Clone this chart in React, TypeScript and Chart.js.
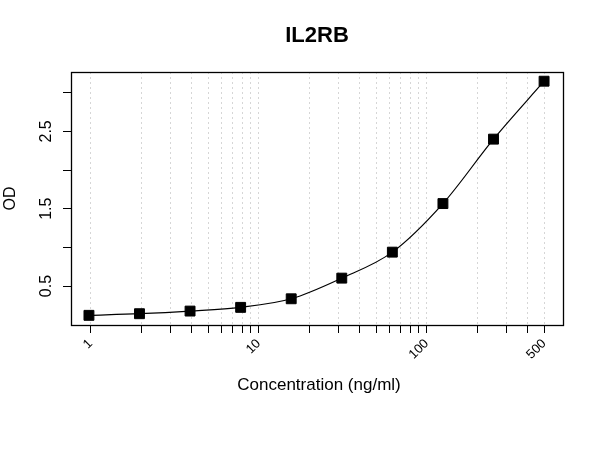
import React, { useEffect, useRef } from "react";
import { Chart, registerables } from "chart.js";

Chart.register(...registerables);

const concentrations = [0.977, 1.953, 3.906, 7.813, 15.625, 31.25, 62.5, 125, 250, 500];
const odValues = [0.122, 0.143, 0.177, 0.225, 0.336, 0.603, 0.939, 1.567, 2.4, 3.149];
const xTickValues = [1, 2, 3, 4, 5, 6, 7, 8, 9, 10, 20, 30, 40, 50, 60, 70, 80, 90, 100, 200, 300, 400, 500];
const xTickLabels = [1, 10, 100, 500];
const yTickValues = [0.5, 1, 1.5, 2, 2.5, 3];
const yTickLabels = [0.5, 1.5, 2.5];

const titleText = "IL2RB";
const xTitle = "Concentration (ng/ml)";
const yTitle = "OD";

const FONT = "'Liberation Sans', Arial, Helvetica, sans-serif";

const framePlugin = {
  id: "frame",
  afterDraw(chart: any) {
    const { ctx, chartArea } = chart;
    const { left, top, right, bottom } = chartArea;
    ctx.save();
    ctx.strokeStyle = "#000";
    ctx.lineWidth = 1.3;
    ctx.strokeRect(left + 0.5, top + 0.5, right - left, bottom - top);
    ctx.fillStyle = "#000";
    ctx.textAlign = "center";
    ctx.textBaseline = "middle";
    ctx.font = `bold 22px ${FONT}`;
    ctx.fillText(titleText, (left + right) / 2, 36);
    ctx.font = `17px ${FONT}`;
    ctx.fillText(xTitle, (left + right) / 2 + 2, 385);
    ctx.translate(11, (top + bottom) / 2);
    ctx.rotate(-Math.PI / 2);
    ctx.font = `16px ${FONT}`;
    ctx.fillText(yTitle, 0, 0);
    ctx.restore();
  },
};

export default function App() {
  const ref = useRef<HTMLCanvasElement>(null);

  useEffect(() => {
    if (!ref.current) return;
    const points = concentrations.map((c, i) => ({ x: c, y: odValues[i] }));
    const chart = new Chart(ref.current, {
      type: "scatter",
      data: {
        datasets: [
          {
            data: points,
            showLine: true,
            cubicInterpolationMode: "monotone",
            borderColor: "#000",
            borderWidth: 1.2,
            backgroundColor: "#000",
            pointStyle: "rect",
            pointRadius: 7,
            pointBorderWidth: 1,
            pointBorderColor: "#000",
            pointBackgroundColor: "#000",
          } as any,
        ],
      },
      options: {
        animation: false,
        responsive: false,
        layout: { padding: { top: 72, right: 37, left: 0, bottom: 0 } },
        plugins: {
          legend: { display: false },
          tooltip: { enabled: false },
          title: { display: false },
        },
        scales: {
          x: {
            type: "logarithmic",
            min: 0.764,
            max: 648,
            afterFit: (s: any) => {
              s.height = 125;
            },
            afterBuildTicks: (s: any) => {
              s.ticks = xTickValues.map((v) => ({ value: v }));
            },
            ticks: {
              autoSkip: false,
              minRotation: 45,
              maxRotation: 45,
              padding: 3,
              color: "#000",
              font: { family: FONT, size: 13 },
              callback: (v: any) => (xTickLabels.includes(Number(v)) ? String(v) : ""),
            },
            grid: {
              display: true,
              drawOnChartArea: true,
              drawTicks: true,
              color: "#d6d6d6",
              lineWidth: 1,
              tickLength: 8,
              tickColor: "#000",
              tickWidth: 1,
              borderDash: [2, 3],
              tickBorderDash: [],
            } as any,
            border: { display: false, dash: [2, 3] } as any,
          },
          y: {
            type: "linear",
            min: -0.003,
            max: 3.268,
            afterFit: (s: any) => {
              s.width = 71;
            },
            afterBuildTicks: (s: any) => {
              s.ticks = yTickValues.map((v) => ({ value: v }));
            },
            ticks: {
              autoSkip: false,
              minRotation: 90,
              maxRotation: 90,
              crossAlign: "center",
              padding: 5,
              color: "#000",
              font: { family: FONT, size: 16 },
              callback: (v: any) => (yTickLabels.includes(Number(v)) ? String(v) : ""),
            },
            grid: {
              display: true,
              drawOnChartArea: false,
              drawTicks: true,
              tickLength: 8,
              tickColor: "#000",
              tickWidth: 1,
            },
            border: { display: false },
          },
        },
      },
      plugins: [framePlugin],
    });
    return () => chart.destroy();
  }, []);

  return (
    <div style={{ position: "absolute", left: 0, top: 0, width: 600, height: 450, background: "#fff" }}>
      <canvas ref={ref} width={600} height={450} />
    </div>
  );
}
